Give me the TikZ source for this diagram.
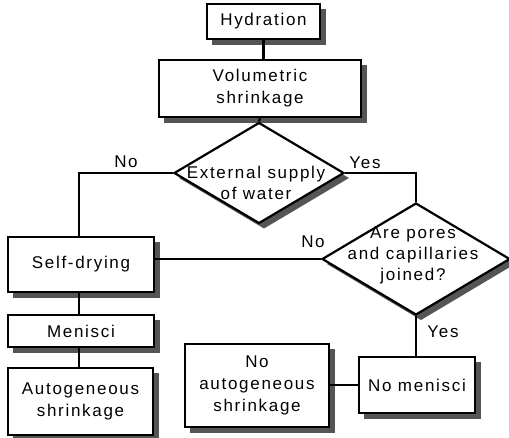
\documentclass[tikz,border=0pt]{standalone}
\usepackage{fontspec}
\setmainfont{Liberation Sans}[LetterSpace=10]
\usetikzlibrary{shapes.geometric}
\definecolor{shadowc}{RGB}{85,85,85}
\begin{document}
\begin{tikzpicture}[x=1pt,y=-1pt,
  line width=2.2pt,
  box/.style={draw=black,line width=2.2pt,fill=white,rectangle,inner sep=0pt,align=center,font=\fontsize{17}{22}\selectfont},
  dia/.style={draw=black,line width=2.2pt,fill=white,diamond,inner sep=0pt},
  txt/.style={inner sep=0pt,align=center,font=\fontsize{17}{21}\selectfont},
  shad/.style={fill=shadowc,draw=none},
  conn/.style={draw=black,line width=2.2pt}]
\useasboundingbox[fill=white] (0,0) rectangle (509,437);
% shadows
\fill[shad] (212,9) rectangle (325.5,44.5);
\fill[shad] (164,65) rectangle (366.5,122.5);
\fill[shad] (13,242) rectangle (159.5,297.5);
\fill[shad] (13,320) rectangle (159.5,352.5);
\fill[shad] (13,373) rectangle (158.5,440);
\fill[shad] (190,349) rectangle (334.5,432.5);
\fill[shad] (364,362) rectangle (480.5,418.5);
\fill[shad] (264,128.5) -- (349,178) -- (264,228.5) -- (179,178) -- cycle;
\fill[shad] (421,208) -- (515,264) -- (421,320) -- (327,264) -- cycle;
% nodes
\node[box,minimum width=113pt,minimum height=35pt] (hyd) at (263.5,21.5) {Hydration};
\node[box,minimum width=202pt,minimum height=57pt] (vol) at (260,88.5) {Volumetric\\shrinkage};
\node[dia,minimum width=170pt,minimum height=101pt] (d1) at (259,173) {};
\node[txt] (t1) at (256,183) {External supply\\of water};
\node[dia,minimum width=188pt,minimum height=112pt] (d2) at (416,259) {};
\node[txt] (t2) at (413,255) {Are pores\\and capillaries\\joined?};
\node[box,minimum width=146pt,minimum height=55pt] (self) at (81,264.5) {Self-drying};
\node[box,minimum width=146pt,minimum height=32pt] (men) at (81,331) {Menisci};
\node[box,minimum width=145pt,minimum height=67pt] (auto) at (80.5,401.5) {Autogeneous\\shrinkage};
\node[box,minimum width=144pt,minimum height=83pt] (noauto) at (257,385.5) {No\\autogeneous\\shrinkage};
\node[box,minimum width=116pt,minimum height=56pt] (nomen) at (417,385) {No menisci};
\node[txt] (lno1) at (126,162) {No};
\node[txt] (lyes1) at (365,163) {Yes};
\node[txt] (lno2) at (313,242) {No};
\node[txt] (lyes2) at (443,332) {Yes};
\draw[conn] (hyd.south) -- (hyd.south |- vol.north);
\draw[conn] (vol.south) -- (d1.north);
\draw[conn] (d1.west) -| ([xshift=-2pt]self.north);
\draw[conn] (d1.east) -| (d2.north);
\draw[conn] (d2.west) -- (d2.west -| self.east);
\draw[conn] ([xshift=-2pt]self.south) -- ([xshift=-2pt]men.north);
\draw[conn] ([xshift=-2pt]men.south) -- ([xshift=-2pt]men.south |- auto.north);
\draw[conn] (d2.south) -- (d2.south |- nomen.north);
\draw[conn] (nomen.west) -- (nomen.west -| noauto.east);
\end{tikzpicture}
\end{document}
